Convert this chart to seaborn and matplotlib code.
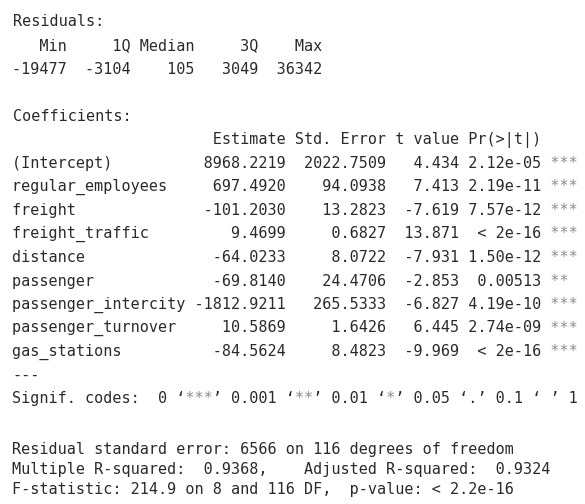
import matplotlib
matplotlib.use("Agg")
import matplotlib.pyplot as plt
import seaborn as sns

# ---- data (R lm summary) ----
resid_labels = ["Min", "1Q", "Median", "3Q", "Max"]
resid_values = [-19477, -3104, 105, 3049, 36342]

coef_names = ["(Intercept)", "regular_employees", "freight", "freight_traffic",
              "distance", "passenger", "passenger_intercity",
              "passenger_turnover", "gas_stations"]
estimates = [8968.2219, 697.4920, -101.2030, 9.4699, -64.0233, -69.8140,
             -1812.9211, 10.5869, -84.5624]
std_errors = [2022.7509, 94.0938, 13.2823, 0.6827, 8.0722, 24.4706,
              265.5333, 1.6426, 8.4823]
t_values = [4.434, 7.413, -7.619, 13.871, -7.931, -2.853, -6.827, 6.445, -9.969]
p_values = ["2.12e-05", "2.19e-11", "7.57e-12", "< 2e-16", "1.50e-12",
            "0.00513", "4.19e-10", "2.74e-09", "< 2e-16"]
signif = ["***", "***", "***", "***", "***", "**", "***", "***", "***"]

rse = 6566
resid_df = 116
r_squared = 0.9368
adj_r_squared = 0.9324
f_stat = 214.9
f_df1, f_df2 = 8, 116
f_pvalue = "< 2.2e-16"

# ---- build the console text ----
lines = []
lines.append("Residuals:")
lines.append(" ".join(f"{s:>6}" for s in resid_labels))
lines.append(" ".join(f"{v:>6d}" for v in resid_values))
lines.append("")
lines.append("Coefficients:")
w = max(len(n) for n in coef_names)
lines.append(f"{'':{w}} {'Estimate':>10} {'Std. Error':>10} {'t value':>7} {'Pr(>|t|)':>8}")
for n, e, s, t, p, g in zip(coef_names, estimates, std_errors, t_values, p_values, signif):
    lines.append(f"{n:<{w}} {e:>10.4f} {s:>10.4f} {t:>7.3f} {p:>8} {g}")
lines.append("---")
lines.append("Signif. codes:  0 \u2018***\u2019 0.001 \u2018**\u2019 0.01 \u2018*\u2019 0.05 \u2018.\u2019 0.1 \u2018 \u2019 1")
lines.append("")
lines.append(f"Residual standard error: {rse} on {resid_df} degrees of freedom")
first = f"Multiple R-squared:  {r_squared},"
lines.append(first + " " * (32 - len(first)) + f"Adjusted R-squared:  {adj_r_squared}")
lines.append(f"F-statistic: {f_stat} on {f_df1} and {f_df2} DF,  p-value: {f_pvalue}")

# ---- layout (pixel rows of the console screenshot) ----
y_start = 22
n_top = 17              # lines 0..16 share the upper row pitch
top_pitch = 23.55
gap_after_top = 51      # Signif line -> Residual standard error
bottom_pitch = 20
ys = [y_start + i * top_pitch for i in range(n_top)]
ys.append(ys[-1] + gap_after_top / 2)          # blank line
ys.append(ys[-2] + gap_after_top)              # RSE
while len(ys) < len(lines):
    ys.append(ys[-1] + bottom_pitch)

# ---- draw ----
sns.set_theme(style="white")
plt.rcParams["font.family"] = ["DejaVu Sans Mono"]

fig = plt.figure(figsize=(5.85, 5.04), dpi=100)
ax = fig.add_axes([0, 0, 1, 1])
ax.set_xlim(0, 585)
ax.set_ylim(504, 0)
ax.axis("off")

x0 = 12.5
fs = 10.9
for line, y in zip(lines, ys):
    main = line.replace("*", " ")
    stars = "".join(c if c == "*" else " " for c in line)
    ax.text(x0, y, main, fontsize=fs, color="#2a2a2a", ha="left", va="center")
    if "*" in line:
        ax.text(x0, y, stars, fontsize=fs, color="#8a8a8a", ha="left", va="center")

fig.savefig("out.png", dpi=100, facecolor="white")
